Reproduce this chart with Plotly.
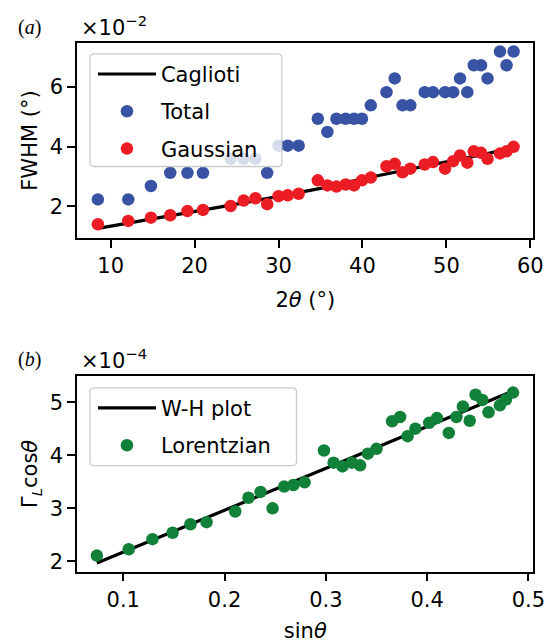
import plotly.graph_objects as go

# ---------------- data ----------------
two_theta = [8.48, 12.1, 14.8, 17.1, 19.15, 21.0, 24.3, 25.85, 27.25, 28.65, 30.0, 31.1, 32.4,
             34.68, 35.82, 36.9, 38.0, 39.0, 39.94, 40.99, 42.86, 43.84, 44.77, 45.7, 47.42, 48.4,
             49.84, 50.8, 51.62, 52.49, 53.26, 54.12, 54.9, 56.38, 57.16, 58.0]
total_fwhm = [2.23, 2.23, 2.68, 3.12, 3.12, 3.12, 3.59, 3.59, 3.59, 3.12, 4.03, 4.03, 4.03,
              4.93, 4.49, 4.93, 4.93, 4.93, 4.93, 5.38, 5.82, 6.28, 5.38, 5.38, 5.82, 5.82,
              5.82, 5.82, 6.28, 5.82, 6.72, 6.72, 6.28, 7.18, 6.72, 7.18]
gauss_fwhm = [1.40, 1.51, 1.62, 1.70, 1.84, 1.88, 2.01, 2.19, 2.27, 2.07, 2.34, 2.37, 2.42,
              2.87, 2.70, 2.66, 2.73, 2.70, 2.87, 2.96, 3.34, 3.42, 3.14, 3.26, 3.40, 3.48,
              3.26, 3.51, 3.70, 3.46, 3.84, 3.79, 3.59, 3.77, 3.84, 3.99]
cag_x = [8.5, 15, 20, 25, 30, 35, 40, 45, 50, 55, 58]
cag_y = [1.26, 1.57, 1.82, 2.07, 2.33, 2.60, 2.92, 3.20, 3.48, 3.77, 3.96]

sin_theta = [0.0739, 0.1054, 0.1288, 0.1487, 0.1663, 0.1822, 0.2105, 0.2236, 0.2355, 0.2474,
             0.2588, 0.2680, 0.2790, 0.2981, 0.3076, 0.3164, 0.3256, 0.3338, 0.3415, 0.3500,
             0.3654, 0.3733, 0.3807, 0.3884, 0.4020, 0.4097, 0.4214, 0.4289, 0.4353, 0.4420,
             0.4478, 0.4545, 0.4606, 0.4718, 0.4778, 0.4848]
lor_gcos = [2.11, 2.23, 2.42, 2.54, 2.70, 2.74, 2.94, 3.20, 3.31, 3.00,
            3.41, 3.44, 3.49, 4.09, 3.86, 3.79, 3.86, 3.81, 4.03, 4.12,
            4.64, 4.72, 4.36, 4.50, 4.61, 4.70, 4.42, 4.72, 4.92, 4.65,
            5.14, 5.04, 4.81, 4.94, 5.05, 5.18]
wh_x = [0.0739, 0.4848]
wh_y = [1.97, 5.21]

# ---------------- style ----------------
FONT = "DejaVu Sans"
FS = 21
BLUE = "#3953a4"
RED = "#ec1c24"
GREEN = "#118039"
W, H = 559, 643


def px_x(p):
    return p / W


def px_y(p):
    return 1 - p / H


def rounded_box(x0, y0, x1, y1, r=4):
    """SVG path (paper coords) of a rounded rectangle given in pixel coords."""
    pts = [
        ("M", (x0 + r, y0)), ("L", (x1 - r, y0)), ("Q", (x1, y0), (x1, y0 + r)),
        ("L", (x1, y1 - r)), ("Q", (x1, y1), (x1 - r, y1)),
        ("L", (x0 + r, y1)), ("Q", (x0, y1), (x0, y1 - r)),
        ("L", (x0, y0 + r)), ("Q", (x0, y0), (x0 + r, y0)),
    ]
    out = []
    for item in pts:
        cmd = item[0]
        coords = " ".join(f"{px_x(p[0]):.5f},{px_y(p[1]):.5f}" for p in item[1:])
        out.append(f"{cmd}{coords}")
    return " ".join(out) + " Z"


fig = go.Figure()

fig.add_trace(go.Scatter(x=cag_x, y=cag_y, mode="lines", name="Caglioti",
                         line=dict(color="black", width=3.2),
                         xaxis="x", yaxis="y", legend="legend", legendgroup="a1"))
fig.add_trace(go.Scatter(x=two_theta, y=total_fwhm, mode="markers", name="Total",
                         marker=dict(color=BLUE, size=12.5),
                         xaxis="x", yaxis="y", legend="legend", legendgroup="a2"))
fig.add_trace(go.Scatter(x=two_theta, y=gauss_fwhm, mode="markers", name="Gaussian",
                         marker=dict(color=RED, size=12.5),
                         xaxis="x", yaxis="y", legend="legend", legendgroup="a3"))

fig.add_trace(go.Scatter(x=wh_x, y=wh_y, mode="lines", name="W-H plot",
                         line=dict(color="black", width=3.2),
                         xaxis="x2", yaxis="y2", legend="legend2", legendgroup="b1"))
fig.add_trace(go.Scatter(x=sin_theta, y=lor_gcos, mode="markers", name="Lorentzian",
                         marker=dict(color=GREEN, size=12.5),
                         xaxis="x2", yaxis="y2", legend="legend2", legendgroup="b2"))

axis_common = dict(showline=True, linecolor="black", linewidth=1.8, mirror=True,
                   ticks="outside", ticklen=8, tickwidth=1.6, tickcolor="black",
                   showgrid=False, zeroline=False,
                   tickfont=dict(family=FONT, size=FS, color="black"))

xdom = [px_x(79), px_x(545)]
fig.update_layout(
    width=W, height=H,
    margin=dict(l=0, r=0, t=0, b=0),
    paper_bgcolor="white", plot_bgcolor="white",
    font=dict(family=FONT, size=FS, color="black"),
    showlegend=True,
    xaxis=dict(domain=xdom, range=[6.03, 60.35], tickvals=[10, 20, 30, 40, 50, 60],
               title=dict(text="2<i>θ</i> (°)", font=dict(family=FONT, size=FS), standoff=15),
               anchor="y", **axis_common),
    yaxis=dict(domain=[px_y(239), px_y(43)], range=[0.93, 7.47], tickvals=[2, 4, 6],
               title=dict(text="FWHM (°)", font=dict(family=FONT, size=FS), standoff=6),
               anchor="x", **axis_common),
    xaxis2=dict(domain=xdom, range=[0.0546, 0.5048], tickvals=[0.1, 0.2, 0.3, 0.4, 0.5],
                title=dict(text="sin<i>θ</i>", font=dict(family=FONT, size=FS), standoff=17),
                anchor="y2", **axis_common),
    yaxis2=dict(domain=[px_y(573.3), px_y(377.3)], range=[1.81, 5.49], tickvals=[2, 3, 4, 5],
                title=dict(text="Γ<sub><i>L</i></sub>cos<i>θ</i>", font=dict(family=FONT, size=FS), standoff=6),
                anchor="x2", **axis_common),
    legend=dict(x=px_x(95), y=px_y(54), xanchor="left", yanchor="top",
                bgcolor="rgba(0,0,0,0)", borderwidth=0,
                font=dict(family=FONT, size=FS), tracegroupgap=7, itemwidth=58),
    legend2=dict(x=px_x(95), y=px_y(389), xanchor="left", yanchor="top",
                 bgcolor="rgba(0,0,0,0)", borderwidth=0,
                 font=dict(family=FONT, size=FS), tracegroupgap=7, itemwidth=58),
)

for box in [(92, 54, 288, 167), (92, 389, 303, 467)]:
    fig.add_shape(type="path", path=rounded_box(*box), xref="paper", yref="paper",
                  fillcolor="rgba(255,255,255,0.8)", line=dict(color="#cccccc", width=1.3),
                  layer="above")

annots = [
    dict(text="(<i>a</i>)", x=px_x(30), y=px_y(28), font=dict(family="Liberation Serif", size=20)),
    dict(text="×10<sup>−2</sup>", x=px_x(117), y=px_y(26), font=dict(family=FONT, size=FS)),
    dict(text="(<i>b</i>)", x=px_x(30), y=px_y(361), font=dict(family="Liberation Serif", size=20)),
    dict(text="×10<sup>−4</sup>", x=px_x(117), y=px_y(360), font=dict(family=FONT, size=FS)),
]
for a in annots:
    fig.add_annotation(xref="paper", yref="paper", showarrow=False,
                       xanchor="center", yanchor="middle", **a)

fig.write_html("out.html")
